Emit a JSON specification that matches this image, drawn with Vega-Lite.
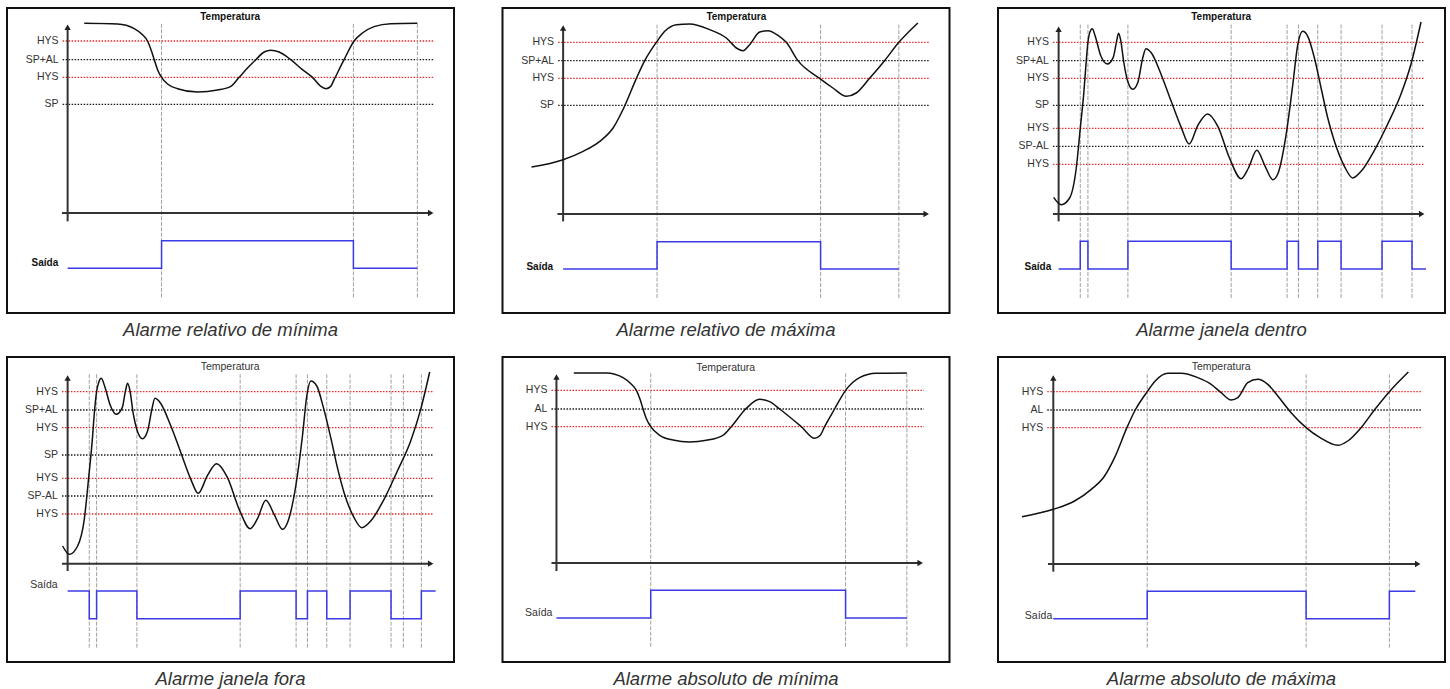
{
"$schema": "https://vega.github.io/schema/vega-lite/v6.json",
"padding": {"left": 6, "top": 7, "right": 2, "bottom": 2},
"background": "white",
"config": {"view": {"stroke": "#111", "strokeWidth": 2}, "font": "Liberation Sans"},
"data": {"values": [
{"p":1,"e":"thr","t":185,"t2":1300,"v":881,"s":"HYS","k":"hys"},
{"p":1,"e":"thr","t":185,"t2":1300,"v":825,"s":"SP+AL","k":"ref"},
{"p":1,"e":"thr","t":185,"t2":1300,"v":772,"s":"HYS","k":"hys"},
{"p":1,"e":"thr","t":185,"t2":1300,"v":691,"s":"SP","k":"ref"},
{"p":1,"e":"ax","t":200,"v":340,"t2":200,"v2":922,"k":"up"},
{"p":1,"e":"ax","t":183,"v":365,"t2":1290,"v2":365,"k":"right"},
{"p":1,"e":"vl","t":482,"v":112,"v2":934},
{"p":1,"e":"vl","t":1058,"v":112,"v2":934},
{"p":1,"e":"vl","t":1250,"v":112,"v2":934},
{"p":1,"e":"cur","t":250,"v":934},{"p":1,"e":"cur","t":350,"v":932},{"p":1,"e":"cur","t":400,"v":918},{"p":1,"e":"cur","t":425,"v":900},{"p":1,"e":"cur","t":440,"v":881},{"p":1,"e":"cur","t":452,"v":850},{"p":1,"e":"cur","t":460,"v":825},{"p":1,"e":"cur","t":470,"v":795},{"p":1,"e":"cur","t":482,"v":772},{"p":1,"e":"cur","t":500,"v":752},{"p":1,"e":"cur","t":530,"v":738},{"p":1,"e":"cur","t":590,"v":728},{"p":1,"e":"cur","t":650,"v":734},{"p":1,"e":"cur","t":690,"v":745},{"p":1,"e":"cur","t":715,"v":772},{"p":1,"e":"cur","t":740,"v":800},{"p":1,"e":"cur","t":765,"v":825},{"p":1,"e":"cur","t":790,"v":848},{"p":1,"e":"cur","t":810,"v":853},{"p":1,"e":"cur","t":835,"v":848},{"p":1,"e":"cur","t":870,"v":825},{"p":1,"e":"cur","t":905,"v":795},{"p":1,"e":"cur","t":935,"v":772},{"p":1,"e":"cur","t":960,"v":745},{"p":1,"e":"cur","t":975,"v":738},{"p":1,"e":"cur","t":990,"v":745},{"p":1,"e":"cur","t":1000,"v":765},{"p":1,"e":"cur","t":1030,"v":825},{"p":1,"e":"cur","t":1060,"v":881},{"p":1,"e":"cur","t":1085,"v":905},{"p":1,"e":"cur","t":1120,"v":924},{"p":1,"e":"cur","t":1170,"v":933},{"p":1,"e":"cur","t":1250,"v":934},
{"p":1,"e":"out","t":200,"v":199},{"p":1,"e":"out","t":482,"v":282},{"p":1,"e":"out","t":1058,"v":199},{"p":1,"e":"out","t":1250,"v":199},
{"p":1,"e":"ttl","t":688,"v":952,"s":"Temperatura"},
{"p":1,"e":"sai","t":172,"v":214,"s":"Saída"},

{"p":2,"e":"thr","t":185,"t2":1300,"v":877,"s":"HYS","k":"hys"},
{"p":2,"e":"thr","t":185,"t2":1300,"v":822,"s":"SP+AL","k":"ref"},
{"p":2,"e":"thr","t":185,"t2":1300,"v":769,"s":"HYS","k":"hys"},
{"p":2,"e":"thr","t":185,"t2":1300,"v":688,"s":"SP","k":"ref"},
{"p":2,"e":"ax","t":200,"v":340,"t2":200,"v2":920,"k":"up"},
{"p":2,"e":"ax","t":183,"v":362,"t2":1290,"v2":362,"k":"right"},
{"p":2,"e":"vl","t":482,"v":110,"v2":930},
{"p":2,"e":"vl","t":973,"v":110,"v2":930},
{"p":2,"e":"vl","t":1208,"v":110,"v2":930},
{"p":2,"e":"cur","t":105,"v":503},{"p":2,"e":"cur","t":200,"v":525},{"p":2,"e":"cur","t":260,"v":550},{"p":2,"e":"cur","t":310,"v":580},{"p":2,"e":"cur","t":350,"v":620},{"p":2,"e":"cur","t":382,"v":680},{"p":2,"e":"cur","t":420,"v":769},{"p":2,"e":"cur","t":445,"v":822},{"p":2,"e":"cur","t":480,"v":877},{"p":2,"e":"cur","t":505,"v":910},{"p":2,"e":"cur","t":540,"v":930},{"p":2,"e":"cur","t":580,"v":932},{"p":2,"e":"cur","t":640,"v":915},{"p":2,"e":"cur","t":690,"v":890},{"p":2,"e":"cur","t":720,"v":860},{"p":2,"e":"cur","t":740,"v":852},{"p":2,"e":"cur","t":760,"v":870},{"p":2,"e":"cur","t":790,"v":908},{"p":2,"e":"cur","t":815,"v":912},{"p":2,"e":"cur","t":845,"v":898},{"p":2,"e":"cur","t":870,"v":877},{"p":2,"e":"cur","t":905,"v":822},{"p":2,"e":"cur","t":970,"v":769},{"p":2,"e":"cur","t":1010,"v":740},{"p":2,"e":"cur","t":1050,"v":715},{"p":2,"e":"cur","t":1080,"v":725},{"p":2,"e":"cur","t":1120,"v":769},{"p":2,"e":"cur","t":1165,"v":822},{"p":2,"e":"cur","t":1208,"v":877},{"p":2,"e":"cur","t":1265,"v":935},
{"p":2,"e":"out","t":200,"v":197},{"p":2,"e":"out","t":482,"v":279},{"p":2,"e":"out","t":973,"v":197},{"p":2,"e":"out","t":1208,"v":197},
{"p":2,"e":"ttl","t":720,"v":952,"s":"Temperatura"},
{"p":2,"e":"sai","t":170,"v":204,"s":"Saída"},

{"p":3,"e":"thr","t":183,"t2":1300,"v":877,"s":"HYS","k":"hys"},
{"p":3,"e":"thr","t":183,"t2":1300,"v":822,"s":"SP+AL","k":"ref"},
{"p":3,"e":"thr","t":183,"t2":1300,"v":769,"s":"HYS","k":"hys"},
{"p":3,"e":"thr","t":183,"t2":1300,"v":688,"s":"SP","k":"ref"},
{"p":3,"e":"thr","t":183,"t2":1300,"v":619,"s":"HYS","k":"hys"},
{"p":3,"e":"thr","t":183,"t2":1300,"v":565,"s":"SP-AL","k":"ref"},
{"p":3,"e":"thr","t":183,"t2":1300,"v":511,"s":"HYS","k":"hys"},
{"p":3,"e":"ax","t":200,"v":340,"t2":200,"v2":916,"k":"up"},
{"p":3,"e":"ax","t":183,"v":362,"t2":1290,"v2":362,"k":"right"},
{"p":3,"e":"vl","t":265,"v":110,"v2":932},{"p":3,"e":"vl","t":288,"v":110,"v2":932},{"p":3,"e":"vl","t":408,"v":110,"v2":932},{"p":3,"e":"vl","t":718,"v":110,"v2":932},{"p":3,"e":"vl","t":886,"v":110,"v2":932},{"p":3,"e":"vl","t":920,"v":110,"v2":932},{"p":3,"e":"vl","t":978,"v":110,"v2":932},{"p":3,"e":"vl","t":1048,"v":110,"v2":932},{"p":3,"e":"vl","t":1171,"v":110,"v2":932},{"p":3,"e":"vl","t":1261,"v":110,"v2":932},
{"p":3,"e":"cur","t":185,"v":412},{"p":3,"e":"cur","t":208,"v":390},{"p":3,"e":"cur","t":233,"v":410},{"p":3,"e":"cur","t":253,"v":500},{"p":3,"e":"cur","t":265,"v":619},{"p":3,"e":"cur","t":276,"v":730},{"p":3,"e":"cur","t":283,"v":822},{"p":3,"e":"cur","t":288,"v":877},{"p":3,"e":"cur","t":294,"v":908},{"p":3,"e":"cur","t":301,"v":918},{"p":3,"e":"cur","t":310,"v":895},{"p":3,"e":"cur","t":326,"v":838},{"p":3,"e":"cur","t":346,"v":812},{"p":3,"e":"cur","t":364,"v":832},{"p":3,"e":"cur","t":374,"v":880},{"p":3,"e":"cur","t":380,"v":904},{"p":3,"e":"cur","t":386,"v":885},{"p":3,"e":"cur","t":396,"v":815},{"p":3,"e":"cur","t":406,"v":765},{"p":3,"e":"cur","t":423,"v":736},{"p":3,"e":"cur","t":438,"v":757},{"p":3,"e":"cur","t":452,"v":828},{"p":3,"e":"cur","t":462,"v":858},{"p":3,"e":"cur","t":478,"v":846},{"p":3,"e":"cur","t":508,"v":780},{"p":3,"e":"cur","t":538,"v":700},{"p":3,"e":"cur","t":568,"v":622},{"p":3,"e":"cur","t":592,"v":572},{"p":3,"e":"cur","t":618,"v":628},{"p":3,"e":"cur","t":647,"v":662},{"p":3,"e":"cur","t":678,"v":625},{"p":3,"e":"cur","t":713,"v":530},{"p":3,"e":"cur","t":748,"v":468},{"p":3,"e":"cur","t":770,"v":500},{"p":3,"e":"cur","t":795,"v":553},{"p":3,"e":"cur","t":820,"v":505},{"p":3,"e":"cur","t":843,"v":465},{"p":3,"e":"cur","t":858,"v":482},{"p":3,"e":"cur","t":883,"v":600},{"p":3,"e":"cur","t":903,"v":750},{"p":3,"e":"cur","t":918,"v":870},{"p":3,"e":"cur","t":933,"v":910},{"p":3,"e":"cur","t":948,"v":895},{"p":3,"e":"cur","t":968,"v":830},{"p":3,"e":"cur","t":988,"v":740},{"p":3,"e":"cur","t":1008,"v":650},{"p":3,"e":"cur","t":1028,"v":580},{"p":3,"e":"cur","t":1058,"v":505},{"p":3,"e":"cur","t":1083,"v":470},{"p":3,"e":"cur","t":1108,"v":490},{"p":3,"e":"cur","t":1148,"v":553},{"p":3,"e":"cur","t":1188,"v":632},{"p":3,"e":"cur","t":1228,"v":722},{"p":3,"e":"cur","t":1258,"v":812},{"p":3,"e":"cur","t":1288,"v":938},
{"p":3,"e":"out","t":200,"v":197},{"p":3,"e":"out","t":265,"v":280},{"p":3,"e":"out","t":288,"v":197},{"p":3,"e":"out","t":408,"v":280},{"p":3,"e":"out","t":718,"v":197},{"p":3,"e":"out","t":886,"v":280},{"p":3,"e":"out","t":920,"v":197},{"p":3,"e":"out","t":978,"v":280},{"p":3,"e":"out","t":1048,"v":197},{"p":3,"e":"out","t":1171,"v":280},{"p":3,"e":"out","t":1261,"v":197},{"p":3,"e":"out","t":1303,"v":197},
{"p":3,"e":"ttl","t":688,"v":952,"s":"Temperatura"},
{"p":3,"e":"sai","t":178,"v":204,"s":"Saída"},

{"p":4,"e":"thr","t":183,"t2":1300,"v":876,"s":"HYS","k":"hys"},
{"p":4,"e":"thr","t":183,"t2":1300,"v":821,"s":"SP+AL","k":"ref"},
{"p":4,"e":"thr","t":183,"t2":1300,"v":768,"s":"HYS","k":"hys"},
{"p":4,"e":"thr","t":183,"t2":1300,"v":686,"s":"SP","k":"ref"},
{"p":4,"e":"thr","t":183,"t2":1300,"v":616,"s":"HYS","k":"hys"},
{"p":4,"e":"thr","t":183,"t2":1300,"v":563,"s":"SP-AL","k":"ref"},
{"p":4,"e":"thr","t":183,"t2":1300,"v":509,"s":"HYS","k":"hys"},
{"p":4,"e":"ax","t":200,"v":338,"t2":200,"v2":917,"k":"up"},
{"p":4,"e":"ax","t":183,"v":360,"t2":1290,"v2":360,"k":"right"},
{"p":4,"e":"vl","t":265,"v":108,"v2":928},{"p":4,"e":"vl","t":287,"v":108,"v2":928},{"p":4,"e":"vl","t":408,"v":108,"v2":928},{"p":4,"e":"vl","t":718,"v":108,"v2":928},{"p":4,"e":"vl","t":886,"v":108,"v2":928},{"p":4,"e":"vl","t":920,"v":108,"v2":928},{"p":4,"e":"vl","t":978,"v":108,"v2":928},{"p":4,"e":"vl","t":1048,"v":108,"v2":928},{"p":4,"e":"vl","t":1171,"v":108,"v2":928},{"p":4,"e":"vl","t":1208,"v":108,"v2":928},{"p":4,"e":"vl","t":1262,"v":108,"v2":928},
{"p":4,"e":"cur","t":185,"v":413},{"p":4,"e":"cur","t":205,"v":388},{"p":4,"e":"cur","t":230,"v":413},{"p":4,"e":"cur","t":250,"v":493},{"p":4,"e":"cur","t":263,"v":616},{"p":4,"e":"cur","t":274,"v":730},{"p":4,"e":"cur","t":281,"v":821},{"p":4,"e":"cur","t":287,"v":876},{"p":4,"e":"cur","t":294,"v":906},{"p":4,"e":"cur","t":301,"v":916},{"p":4,"e":"cur","t":312,"v":890},{"p":4,"e":"cur","t":328,"v":835},{"p":4,"e":"cur","t":346,"v":808},{"p":4,"e":"cur","t":364,"v":828},{"p":4,"e":"cur","t":374,"v":880},{"p":4,"e":"cur","t":380,"v":901},{"p":4,"e":"cur","t":387,"v":880},{"p":4,"e":"cur","t":397,"v":810},{"p":4,"e":"cur","t":408,"v":762},{"p":4,"e":"cur","t":425,"v":735},{"p":4,"e":"cur","t":440,"v":758},{"p":4,"e":"cur","t":454,"v":828},{"p":4,"e":"cur","t":462,"v":856},{"p":4,"e":"cur","t":478,"v":843},{"p":4,"e":"cur","t":510,"v":773},{"p":4,"e":"cur","t":540,"v":693},{"p":4,"e":"cur","t":570,"v":613},{"p":4,"e":"cur","t":592,"v":571},{"p":4,"e":"cur","t":620,"v":625},{"p":4,"e":"cur","t":647,"v":660},{"p":4,"e":"cur","t":680,"v":618},{"p":4,"e":"cur","t":715,"v":523},{"p":4,"e":"cur","t":748,"v":465},{"p":4,"e":"cur","t":770,"v":495},{"p":4,"e":"cur","t":795,"v":550},{"p":4,"e":"cur","t":820,"v":508},{"p":4,"e":"cur","t":845,"v":463},{"p":4,"e":"cur","t":860,"v":483},{"p":4,"e":"cur","t":885,"v":593},{"p":4,"e":"cur","t":905,"v":743},{"p":4,"e":"cur","t":918,"v":863},{"p":4,"e":"cur","t":930,"v":908},{"p":4,"e":"cur","t":948,"v":893},{"p":4,"e":"cur","t":968,"v":828},{"p":4,"e":"cur","t":990,"v":738},{"p":4,"e":"cur","t":1010,"v":648},{"p":4,"e":"cur","t":1030,"v":573},{"p":4,"e":"cur","t":1060,"v":498},{"p":4,"e":"cur","t":1083,"v":468},{"p":4,"e":"cur","t":1110,"v":488},{"p":4,"e":"cur","t":1150,"v":553},{"p":4,"e":"cur","t":1190,"v":638},{"p":4,"e":"cur","t":1230,"v":728},{"p":4,"e":"cur","t":1260,"v":823},{"p":4,"e":"cur","t":1287,"v":935},
{"p":4,"e":"out","t":200,"v":278},{"p":4,"e":"out","t":265,"v":195},{"p":4,"e":"out","t":287,"v":278},{"p":4,"e":"out","t":408,"v":195},{"p":4,"e":"out","t":718,"v":278},{"p":4,"e":"out","t":886,"v":195},{"p":4,"e":"out","t":920,"v":278},{"p":4,"e":"out","t":978,"v":195},{"p":4,"e":"out","t":1048,"v":278},{"p":4,"e":"out","t":1171,"v":195},{"p":4,"e":"out","t":1262,"v":278},{"p":4,"e":"out","t":1305,"v":278},
{"p":4,"e":"ttl","t":688,"v":949,"s":"Temperatura"},
{"p":4,"e":"sai","t":170,"v":295,"s":"Saída"},

{"p":5,"e":"thr","t":165,"t2":1283,"v":880,"s":"HYS","k":"hys"},
{"p":5,"e":"thr","t":165,"t2":1283,"v":824,"s":"AL","k":"ref"},
{"p":5,"e":"thr","t":165,"t2":1283,"v":771,"s":"HYS","k":"hys"},
{"p":5,"e":"ax","t":180,"v":338,"t2":180,"v2":920,"k":"up"},
{"p":5,"e":"ax","t":165,"v":362,"t2":1272,"v2":362,"k":"right"},
{"p":5,"e":"vl","t":463,"v":111,"v2":931},
{"p":5,"e":"vl","t":1048,"v":111,"v2":931},
{"p":5,"e":"vl","t":1232,"v":111,"v2":931},
{"p":5,"e":"cur","t":232,"v":932},{"p":5,"e":"cur","t":330,"v":932},{"p":5,"e":"cur","t":380,"v":918},{"p":5,"e":"cur","t":405,"v":898},{"p":5,"e":"cur","t":420,"v":880},{"p":5,"e":"cur","t":432,"v":850},{"p":5,"e":"cur","t":440,"v":824},{"p":5,"e":"cur","t":450,"v":795},{"p":5,"e":"cur","t":463,"v":771},{"p":5,"e":"cur","t":490,"v":745},{"p":5,"e":"cur","t":530,"v":731},{"p":5,"e":"cur","t":580,"v":725},{"p":5,"e":"cur","t":630,"v":730},{"p":5,"e":"cur","t":680,"v":745},{"p":5,"e":"cur","t":705,"v":771},{"p":5,"e":"cur","t":748,"v":824},{"p":5,"e":"cur","t":790,"v":853},{"p":5,"e":"cur","t":820,"v":846},{"p":5,"e":"cur","t":850,"v":824},{"p":5,"e":"cur","t":915,"v":771},{"p":5,"e":"cur","t":955,"v":736},{"p":5,"e":"cur","t":972,"v":745},{"p":5,"e":"cur","t":985,"v":771},{"p":5,"e":"cur","t":1015,"v":824},{"p":5,"e":"cur","t":1048,"v":880},{"p":5,"e":"cur","t":1090,"v":918},{"p":5,"e":"cur","t":1140,"v":931},{"p":5,"e":"cur","t":1232,"v":932},
{"p":5,"e":"out","t":180,"v":197},{"p":5,"e":"out","t":463,"v":280},{"p":5,"e":"out","t":1048,"v":197},{"p":5,"e":"out","t":1232,"v":197},
{"p":5,"e":"ttl","t":688,"v":946,"s":"Temperatura"},
{"p":5,"e":"sai","t":168,"v":211,"s":"Saída"},

{"p":6,"e":"thr","t":166,"t2":1288,"v":876,"s":"HYS","k":"hys"},
{"p":6,"e":"thr","t":166,"t2":1288,"v":821,"s":"AL","k":"ref"},
{"p":6,"e":"thr","t":166,"t2":1288,"v":768,"s":"HYS","k":"hys"},
{"p":6,"e":"ax","t":184,"v":336,"t2":184,"v2":917,"k":"up"},
{"p":6,"e":"ax","t":168,"v":359,"t2":1278,"v2":359,"k":"right"},
{"p":6,"e":"vl","t":466,"v":108,"v2":928},
{"p":6,"e":"vl","t":943,"v":108,"v2":928},
{"p":6,"e":"vl","t":1193,"v":108,"v2":928},
{"p":6,"e":"cur","t":90,"v":501},{"p":6,"e":"cur","t":184,"v":523},{"p":6,"e":"cur","t":248,"v":548},{"p":6,"e":"cur","t":298,"v":583},{"p":6,"e":"cur","t":338,"v":623},{"p":6,"e":"cur","t":368,"v":678},{"p":6,"e":"cur","t":405,"v":768},{"p":6,"e":"cur","t":430,"v":821},{"p":6,"e":"cur","t":466,"v":876},{"p":6,"e":"cur","t":490,"v":908},{"p":6,"e":"cur","t":528,"v":931},{"p":6,"e":"cur","t":568,"v":931},{"p":6,"e":"cur","t":618,"v":918},{"p":6,"e":"cur","t":658,"v":898},{"p":6,"e":"cur","t":688,"v":873},{"p":6,"e":"cur","t":718,"v":851},{"p":6,"e":"cur","t":738,"v":858},{"p":6,"e":"cur","t":768,"v":903},{"p":6,"e":"cur","t":798,"v":913},{"p":6,"e":"cur","t":828,"v":898},{"p":6,"e":"cur","t":858,"v":863},{"p":6,"e":"cur","t":898,"v":813},{"p":6,"e":"cur","t":943,"v":768},{"p":6,"e":"cur","t":985,"v":738},{"p":6,"e":"cur","t":1038,"v":715},{"p":6,"e":"cur","t":1068,"v":728},{"p":6,"e":"cur","t":1108,"v":768},{"p":6,"e":"cur","t":1148,"v":821},{"p":6,"e":"cur","t":1193,"v":876},{"p":6,"e":"cur","t":1250,"v":935},
{"p":6,"e":"out","t":184,"v":195},{"p":6,"e":"out","t":466,"v":277},{"p":6,"e":"out","t":943,"v":195},{"p":6,"e":"out","t":1193,"v":277},{"p":6,"e":"out","t":1271,"v":277},
{"p":6,"e":"ttl","t":688,"v":949,"s":"Temperatura"},
{"p":6,"e":"sai","t":181,"v":203,"s":"Saída"}
]},
"facet": {"field": "p", "type": "ordinal", "header": {
  "title": null, "labelOrient": "bottom", "labelFontSize": 18.5, "labelFontStyle": "italic",
  "labelFont": "Liberation Sans", "labelColor": "#333", "labelPadding": 8,
  "labelExpr": "['', 'Alarme relativo de mínima', 'Alarme relativo de máxima', 'Alarme janela dentro', 'Alarme janela fora', 'Alarme absoluto de mínima', 'Alarme absoluto de máxima'][datum.value]"}},
"columns": 3,
"spacing": {"row": 15, "column": 46.5},
"spec": {
  "width": 447, "height": 305,
  "encoding": {
    "x": {"field": "t", "type": "quantitative", "scale": {"domain": [18, 1360], "nice": false, "zero": false}, "axis": null},
    "y": {"field": "v", "type": "quantitative", "scale": {"domain": [65, 980], "nice": false, "zero": false}, "axis": null}
  },
  "layer": [
    {"transform": [{"filter": "datum.e == 'thr'"}], "mark": {"type": "rule", "strokeDash": [1.5, 1.5], "strokeWidth": 1.3},
     "encoding": {"x2": {"field": "t2"}, "color": {"field": "k", "type": "nominal", "scale": {"domain": ["hys", "ref"], "range": ["#ee2a2a", "#1a1a1a"]}, "legend": null}}},
    {"transform": [{"filter": "datum.e == 'thr'"}], "mark": {"type": "text", "align": "right", "baseline": "middle", "dx": -4, "fontSize": 10.5, "fill": "#333"},
     "encoding": {"text": {"field": "s"}}},
    {"transform": [{"filter": "datum.e == 'vl'"}], "mark": {"type": "rule", "strokeDash": [4, 1.5], "stroke": "#a0a0a0", "strokeWidth": 1},
     "encoding": {"y2": {"field": "v2"}}},
    {"transform": [{"filter": "datum.e == 'ax'"}], "mark": {"type": "rule", "stroke": "#333", "strokeWidth": 2},
     "encoding": {"x2": {"field": "t2"}, "y2": {"field": "v2"}}},
    {"transform": [{"filter": "datum.e == 'ax'"}], "mark": {"type": "point", "filled": true, "size": 40, "color": "#222", "opacity": 1},
     "encoding": {"x": {"field": "t2", "type": "quantitative"}, "y": {"field": "v2", "type": "quantitative"},
       "shape": {"field": "k", "type": "nominal", "scale": {"domain": ["up", "right"], "range": ["triangle-up", "triangle-right"]}, "legend": null}}},
    {"transform": [{"filter": "datum.e == 'cur'"}], "mark": {"type": "line", "interpolate": "monotone", "stroke": "#111", "strokeWidth": 1.5}, "encoding": {}},
    {"transform": [{"filter": "datum.e == 'out'"}], "mark": {"type": "line", "interpolate": "step-after", "stroke": "#3b3be6", "strokeWidth": 1.5}, "encoding": {}},
    {"transform": [{"filter": "datum.e == 'ttl' && datum.p <= 3"}], "mark": {"type": "text", "align": "center", "baseline": "middle", "fontSize": 10, "fontWeight": "bold", "fill": "#111"},
     "encoding": {"text": {"field": "s"}}},
    {"transform": [{"filter": "datum.e == 'ttl' && datum.p > 3"}], "mark": {"type": "text", "align": "center", "baseline": "middle", "fontSize": 10.5, "fill": "#333"},
     "encoding": {"text": {"field": "s"}}},
    {"transform": [{"filter": "datum.e == 'sai' && datum.p <= 3"}], "mark": {"type": "text", "align": "right", "baseline": "middle", "fontSize": 10, "fontWeight": "bold", "fill": "#111"},
     "encoding": {"text": {"field": "s"}}},
    {"transform": [{"filter": "datum.e == 'sai' && datum.p > 3"}], "mark": {"type": "text", "align": "right", "baseline": "middle", "fontSize": 10.5, "fill": "#333"},
     "encoding": {"text": {"field": "s"}}}
  ]
}
}
